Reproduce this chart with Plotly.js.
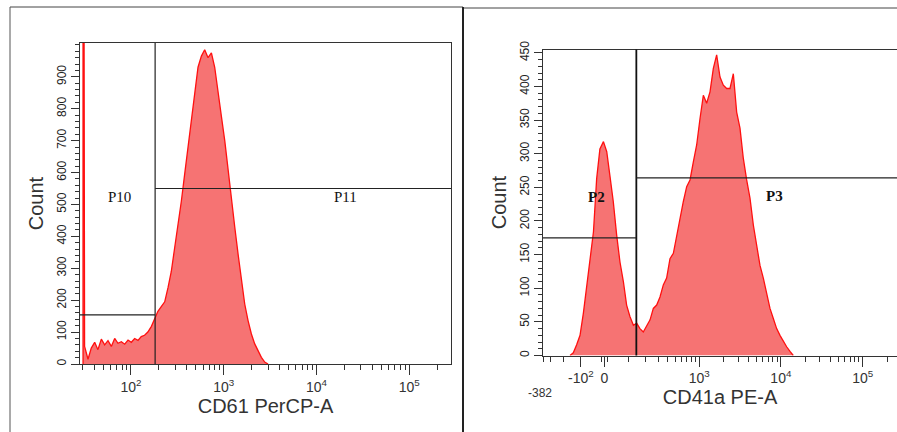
<!DOCTYPE html>
<html>
<head>
<meta charset="utf-8">
<script src="https://cdn.plot.ly/plotly-3.0.1.min.js"></script>
<style>html,body{margin:0;padding:0;background:#fff;}#chart{width:897px;height:432px;}</style>
</head>
<body>
<div id="chart"></div>
<script>
// ---------- Left panel: CD61 PerCP-A (log scale) ----------
const cd61Values = [30.4, 30.4, 31.6, 34.4, 37.3, 40.6, 44.0, 47.9, 52.0, 56.5, 61.4, 66.7, 72.4, 78.7, 85.5, 92.9,
  100.8, 109.5, 119, 129, 140, 152, 166, 180, 195, 212, 231, 251, 272, 296, 321, 349, 379, 412, 448, 486,
  528, 574, 623, 677, 736, 799, 868, 944, 1025, 1113, 1209, 1313, 1426, 1549, 1683, 1828, 1986, 2157,
  2343, 2545, 2765, 3004];
const cd61Counts = [0, 3000, 55, 15, 50, 68, 45, 78, 60, 73, 55, 80, 65, 70, 62, 75,
  68, 80, 74, 86, 90, 100, 118, 140, 165, 180, 195, 240, 290, 365, 430, 510, 595, 680, 770, 855,
  930, 965, 985, 960, 975, 930, 860, 775, 700, 605, 520, 430, 345, 262, 188, 136, 94, 63,
  42, 21, 6, 0];
const cd61TickVals = [100, 1000, 10000, 100000];
const cd61TickText = ['10<sup>2</sup>', '10<sup>3</sup>', '10<sup>4</sup>', '10<sup>5</sup>'];
const cd61MinorVals = [30, 40, 50, 60, 70, 80, 90, 200, 300, 400, 500, 600, 700, 800, 900,
  2000, 3000, 4000, 5000, 6000, 7000, 8000, 9000, 20000, 30000, 40000, 50000, 60000, 70000, 80000, 90000, 200000];
const cd61CountTicks = [0, 100, 200, 300, 400, 500, 600, 700, 800, 900];
const cd61Range = [28.2, 281800];
const cd61CountMax = 1006;
const p10Gate = {x0: 28.2, x1: 182, level: 154};
const p11Gate = {x0: 182, x1: 281800, level: 550};

// ---------- Right panel: CD41a PE-A (biexponential scale) ----------
const cd41aValues = [-158, -139, -121, -104, -88, -73, -58, -44, -31, -18, -4, 9, 22, 35, 49, 63, 78, 93, 109, 127,
  145, 164, 185, 208, 233, 259, 288, 319, 353, 390, 431, 476, 524, 578, 636, 700, 770, 847, 931, 1023,
  1125, 1236, 1359, 1493, 1640, 1802, 1980, 2175, 2389, 2624, 2882, 3165, 3477, 3819, 4194, 4607, 5060, 5557,
  6103, 6703, 7362, 8085, 8880, 9752, 10711, 11764, 12919, 14189];
const cd41aCounts = [0, 4, 16, 30, 63, 102, 137, 184, 263, 307, 318, 303, 266, 229, 179, 139, 110, 75, 58, 45,
  48, 40, 35, 43, 53, 70, 75, 87, 105, 115, 144, 152, 179, 204, 229, 251, 261, 288, 313, 352,
  387, 375, 392, 427, 447, 414, 402, 397, 397, 419, 362, 338, 293, 261, 234, 194, 164, 134,
  115, 90, 70, 55, 40, 30, 21, 13, 6, 0];
const cd41aTickVals = [-100, 0, 1000, 10000, 100000];
const cd41aTickText = ['-10<sup>2</sup>', '0', '10<sup>3</sup>', '10<sup>4</sup>', '10<sup>5</sup>'];
const cd41aMinorVals = [-382, -300, -200, -10, 10, 100, 200, 300, 400, 500, 600, 700, 800, 900,
  2000, 3000, 4000, 5000, 6000, 7000, 8000, 9000, 20000, 30000, 40000, 50000, 60000, 70000, 80000, 90000, 200000];
const cd41aCountTicks = [0, 50, 100, 150, 200, 250, 300, 350, 400, 450];
const cd41aRange = [-382, 262144];
const cd41aCountMax = 455;
const p2Gate = {x0: -382, x1: 143, level: 175};
const p3Gate = {x0: 143, x1: 262144, level: 264};

// gate labels [name, x value, count, axis, bold]
const gateLabels = [['P10', 76, 522, 'x', false], ['P11', 20400, 522, 'x', false],
  ['P2', -30, 235, 'x2', true], ['P3', 8470, 237, 'x2', true]];

// biexponential-like display transform (asinh)
const W = 140;
const bx = v => Math.asinh(v / W) / Math.LN10;
const lg = v => Math.log10(v);

const W0 = 897, H0 = 432;
const px = x => x / W0;
const py = y => 1 - y / H0;

const fillCol = '#F67373';
const lineCol = '#FF1010';
const axisCol = '#333333';
const tickFont = {family: 'Liberation Sans, Arial, sans-serif', size: 14, color: '#333'};
const yTickFont = {family: 'Liberation Sans, Arial, sans-serif', size: 12, color: '#222'};
const titleFont = {family: 'Liberation Sans, Arial, sans-serif', size: 20, color: '#333'};

const traces = [
  {x: cd61Values, y: cd61Counts, type: 'scatter', mode: 'lines', fill: 'tozeroy',
   fillcolor: fillCol, line: {color: lineCol, width: 1.3}, xaxis: 'x', yaxis: 'y', hoverinfo: 'skip'},
  {x: cd41aValues.map(bx), y: cd41aCounts, type: 'scatter', mode: 'lines', fill: 'tozeroy',
   fillcolor: fillCol, line: {color: lineCol, width: 1.3}, xaxis: 'x2', yaxis: 'y2', hoverinfo: 'skip'}
];

const gateLine = {color: '#222', width: 1.2};
const shapes = [
  // left gates (log axis: data values)
  {type: 'line', xref: 'x', yref: 'y domain', x0: p10Gate.x1, x1: p10Gate.x1, y0: 0, y1: 1, line: gateLine},
  {type: 'line', xref: 'x', yref: 'y', x0: p10Gate.x0, x1: p10Gate.x1, y0: p10Gate.level, y1: p10Gate.level, line: gateLine},
  {type: 'line', xref: 'x', yref: 'y', x0: p11Gate.x0, x1: p11Gate.x1, y0: p11Gate.level, y1: p11Gate.level, line: gateLine},
  // right gates
  {type: 'line', xref: 'x2', yref: 'y2 domain', x0: bx(p2Gate.x1), x1: bx(p2Gate.x1), y0: 0, y1: 1, line: {color: '#111', width: 1.8}},
  {type: 'line', xref: 'x2', yref: 'y2', x0: bx(p2Gate.x0), x1: bx(p2Gate.x1), y0: p2Gate.level, y1: p2Gate.level, line: gateLine},
  {type: 'line', xref: 'x2', yref: 'y2', x0: bx(p3Gate.x0), x1: bx(p3Gate.x1), y0: p3Gate.level, y1: p3Gate.level, line: gateLine},
  // panel frames
  {type: 'line', xref: 'paper', yref: 'paper', x0: px(10), x1: px(463), y0: py(7), y1: py(7), line: {color: '#444', width: 1}},
  {type: 'line', xref: 'paper', yref: 'paper', x0: px(10), x1: px(10), y0: py(7), y1: py(432), line: {color: '#555', width: 1}},
  {type: 'line', xref: 'paper', yref: 'paper', x0: px(463), x1: px(897), y0: py(8), y1: py(8), line: {color: '#444', width: 1}},
  {type: 'line', xref: 'paper', yref: 'paper', x0: px(463), x1: px(463), y0: py(7), y1: py(432), line: {color: '#222', width: 2}}
];

const annotations = gateLabels.map(g => ({
  text: g[4] ? '<b>' + g[0] + '</b>' : g[0], xref: g[3], yref: g[3] === 'x' ? 'y' : 'y2',
  x: g[3] === 'x' ? lg(g[1]) : bx(g[1]), y: g[2], showarrow: false,
  font: {family: 'Liberation Serif, Times New Roman, serif', size: 15, color: '#111'}
}));
// lower bound label of the biexponential axis
annotations.push({text: String(cd41aRange[0]), xref: 'paper', yref: 'paper', x: px(540), y: py(402),
  showarrow: false, font: {family: 'Liberation Sans, Arial, sans-serif', size: 12, color: '#333'}});

const commonX = {showline: true, linecolor: axisCol, linewidth: 1, mirror: true, ticks: 'outside',
  tickcolor: axisCol, tickwidth: 1, ticklen: 10, showgrid: false, zeroline: false, automargin: false,
  tickfont: tickFont, tickmode: 'array'};
const commonY = {showline: true, linecolor: axisCol, linewidth: 1, ticks: 'outside', tickcolor: axisCol,
  tickwidth: 1, ticklen: 8, showgrid: false, zeroline: false, automargin: false, tickangle: -90,
  tickfont: yTickFont, tickmode: 'array'};

const layout = {
  width: W0, height: H0, margin: {l: 0, r: 0, t: 0, b: 0},
  paper_bgcolor: '#fff', plot_bgcolor: '#fff', showlegend: false,
  xaxis: Object.assign({}, commonX, {type: 'log', domain: [px(80), px(451)], anchor: 'y',
    range: [lg(cd61Range[0]), lg(cd61Range[1])], tickvals: cd61TickVals, ticktext: cd61TickText,
    minor: {tickmode: 'array', tickvals: cd61MinorVals, ticks: 'outside', ticklen: 5, tickcolor: axisCol, tickwidth: 1, showgrid: false},
    title: {text: 'CD61 PerCP-A', font: titleFont, standoff: 0}}),
  yaxis: Object.assign({}, commonY, {domain: [py(364), py(43)], anchor: 'x', range: [0, cd61CountMax],
    tickvals: cd61CountTicks, ticktext: cd61CountTicks.map(String), mirror: true,
    minor: {dtick: 20, tick0: 0, ticks: 'outside', ticklen: 4, tickcolor: axisCol, tickwidth: 1, showgrid: false},
    title: {text: 'Count', font: titleFont, standoff: 6}}),
  xaxis2: Object.assign({}, commonX, {type: 'linear', domain: [px(543), 1], anchor: 'y2',
    range: [bx(cd41aRange[0]), bx(cd41aRange[1])], tickvals: cd41aTickVals.map(bx), ticktext: cd41aTickText,
    minor: {tickmode: 'array', tickvals: cd41aMinorVals.map(bx), ticks: 'outside', ticklen: 5, tickcolor: axisCol, tickwidth: 1, showgrid: false},
    title: {text: 'CD41a PE-A', font: titleFont, standoff: 0}}),
  yaxis2: Object.assign({}, commonY, {domain: [py(355.5), py(49.5)], anchor: 'x2', range: [0, cd41aCountMax],
    tickvals: cd41aCountTicks, ticktext: cd41aCountTicks.map(String), mirror: false,
    minor: {dtick: 10, tick0: 0, ticks: 'outside', ticklen: 4, tickcolor: axisCol, tickwidth: 1, showgrid: false},
    title: {text: 'Count', font: titleFont, standoff: 6}}),
  shapes: shapes,
  annotations: annotations
};

Plotly.newPlot('chart', traces, layout, {displayModeBar: false, staticPlot: true});
</script>
</body>
</html>
